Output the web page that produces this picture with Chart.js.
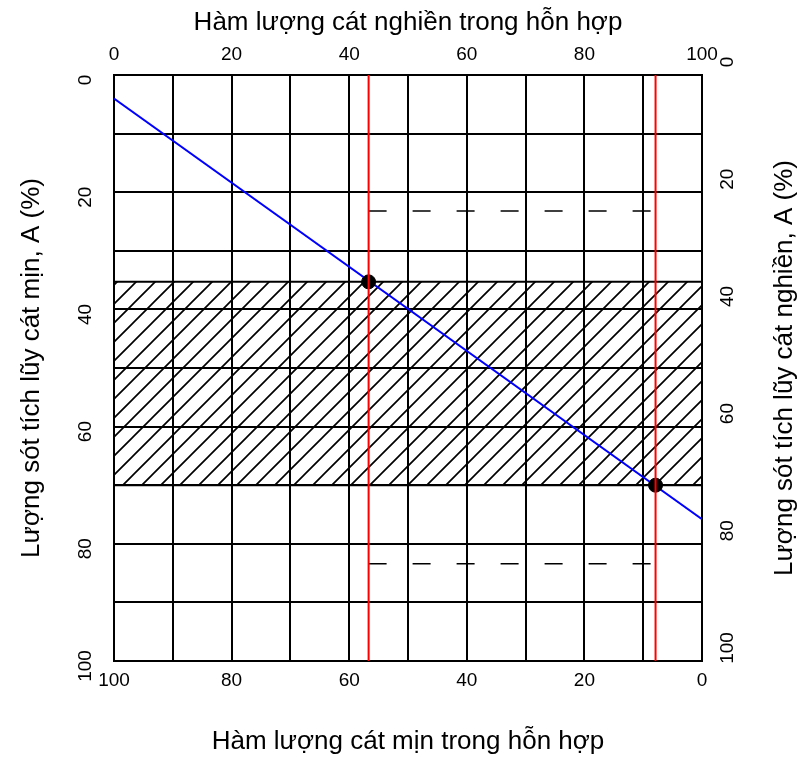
<!DOCTYPE html>
<html>
<head>
<meta charset="utf-8">
<script src="https://cdn.jsdelivr.net/npm/chart.js@4.4.1/dist/chart.umd.min.js"></script>
<style>
  body { margin: 0; background: #fff; }
  canvas { display: block; }
</style>
</head>
<body>
<canvas id="sandChart" width="804" height="763"></canvas>
<script>
var topTitle = 'Hàm lượng cát nghiền trong hỗn hợp';
var bottomTitle = 'Hàm lượng cát mịn trong hỗn hợp';
var leftTitle = 'Lượng sót tích lũy cát mịn, A (%)';
var rightTitle = 'Lượng sót tích lũy cát nghiền, A (%)';

var axisMin = 0;
var axisMax = 100;
var tickLabels = [0, 20, 40, 60, 80, 100];

// blue mixing line (top axis x, left axis y)
var lineX = [0, 100];
var lineY = [4, 75.8];
// limits: red verticals and the two dots
var limitX = [43.3, 92.1];
var limitY = [35.3, 70];
// hatched zone
var zoneY = [35.3, 70];
// dashed lines between the red verticals
var dashY = [23.2, 83.4];

var fontFamily = "'Liberation Sans', Arial, sans-serif";

function pts(xs, ys) {
    return xs.map(function (x, i) { return { x: x, y: ys[i] }; });
}

// diagonal hatch
function makeHatch() {
    var s = 19;
    var c = document.createElement('canvas');
    c.width = s;
    c.height = s;
    var g = c.getContext('2d');
    g.strokeStyle = '#000';
    g.lineWidth = 1.7;
    g.beginPath();
    g.moveTo(0, s); g.lineTo(s, 0);
    g.moveTo(-2, 2); g.lineTo(2, -2);
    g.moveTo(s - 2, s + 2); g.lineTo(s + 2, s - 2);
    g.stroke();
    return g.createPattern(c, 'repeat');
}

function everyTwenty(value) {
    return tickLabels.indexOf(value) >= 0 ? String(value) : '';
}

var rightTitlePlugin = {
    id: 'rightTitle',
    afterDraw: function (chart) {
        var ctx = chart.ctx;
        var area = chart.chartArea;
        ctx.save();
        ctx.translate(chart.scales.yR.right - 19, (area.top + area.bottom) / 2);
        ctx.rotate(-Math.PI / 2);
        ctx.font = '26px ' + fontFamily;
        ctx.fillStyle = '#000';
        ctx.textAlign = 'center';
        ctx.textBaseline = 'middle';
        ctx.fillText(rightTitle, 0, 0);
        ctx.restore();
    }
};

var line = function (data, color, width, order, extra) {
    var ds = {
        data: data,
        borderColor: color,
        borderWidth: width,
        pointRadius: 0,
        fill: false,
        order: order,
        xAxisID: 'xTop',
        yAxisID: 'yL'
    };
    for (var k in extra) ds[k] = extra[k];
    return ds;
};

var ctx = document.getElementById('sandChart').getContext('2d');
var hatch = makeHatch();

var config = {
    type: 'line',
    data: {
        datasets: [
            line(pts([limitX[0], limitX[0]], [axisMin, axisMax]), '#ff0000', 2, 0),
            line(pts([limitX[1], limitX[1]], [axisMin, axisMax]), '#ff0000', 2, 0),
            line(pts(limitX, limitY), '#000', 1, 1, {
                showLine: false, pointRadius: 7, pointBackgroundColor: '#000', pointBorderColor: '#000'
            }),
            line(pts(lineX, lineY), '#0000ff', 2, 2),
            line(pts(limitX, [dashY[0], dashY[0]]), '#000', 1.5, 3, { borderDash: [18, 26] }),
            line(pts(limitX, [dashY[1], dashY[1]]), '#000', 1.5, 3, { borderDash: [18, 26] }),
            line(pts([axisMin, axisMax], [zoneY[0], zoneY[0]]), '#000', 2, 4, { fill: '+1', backgroundColor: hatch }),
            line(pts([axisMin, axisMax], [zoneY[1], zoneY[1]]), '#000', 2, 5)
        ]
    },
    options: {
        responsive: false,
        animation: false,
        layout: { padding: 0 },
        plugins: {
            legend: { display: false },
            tooltip: { enabled: false }
        },
        scales: {
            xTop: {
                type: 'linear', position: 'top', min: axisMin, max: axisMax,
                afterFit: function (s) { s.height = 75; },
                grid: { color: '#000', lineWidth: 2, drawTicks: false },
                border: { color: '#000', width: 2 },
                ticks: { stepSize: 10, callback: everyTwenty, padding: 9, maxRotation: 0,
                         labelOffset: function (c) { return c.tick && c.tick.value === axisMax ? -5 : 0; },
                         color: '#000', font: { family: fontFamily, size: 19 } },
                title: { display: true, text: topTitle, color: '#000', padding: { top: 7 },
                         font: { family: fontFamily, size: 26 } }
            },
            xBot: {
                type: 'linear', position: 'bottom', min: axisMin, max: axisMax, reverse: true,
                afterFit: function (s) { s.height = 102; },
                grid: { display: false, drawTicks: false },
                border: { color: '#000', width: 2 },
                ticks: { stepSize: 20, padding: 8, maxRotation: 0,
                         labelOffset: function (c) { return c.tick && c.tick.value === axisMax ? 5 : 0; },
                         color: '#000', font: { family: fontFamily, size: 19 } },
                title: { display: true, text: bottomTitle, color: '#000', padding: { bottom: 6 },
                         font: { family: fontFamily, size: 26 } }
            },
            yL: {
                type: 'linear', position: 'left', min: axisMin, max: axisMax, reverse: true,
                afterFit: function (s) { s.width = 114; },
                grid: { color: '#000', lineWidth: 2, drawTicks: false },
                border: { color: '#000', width: 2 },
                ticks: { stepSize: 10, callback: everyTwenty, padding: 12, minRotation: 90, maxRotation: 90,
                         crossAlign: 'center',
                         labelOffset: function (c) { return c.tick && c.tick.value === axisMax ? -6 : 5; },
                         color: '#000', font: { family: fontFamily, size: 19 } },
                title: { display: true, text: leftTitle, color: '#000', padding: { top: 16 },
                         font: { family: fontFamily, size: 26 } }
            },
            yR: {
                type: 'linear', position: 'right', min: axisMin, max: axisMax, reverse: true,
                afterFit: function (s) { s.width = 102; },
                grid: { display: false, drawTicks: false },
                border: { color: '#000', width: 2 },
                ticks: { stepSize: 20, padding: 10, minRotation: 90, maxRotation: 90,
                         crossAlign: 'center',
                         labelOffset: function (c) { return c.tick && c.tick.value === axisMax ? -6 : -13; },
                         color: '#000', font: { family: fontFamily, size: 19 } }
            }
        }
    },
    plugins: [rightTitlePlugin]
};

window.sandChart = new Chart(ctx, config);
</script>
</body>
</html>
